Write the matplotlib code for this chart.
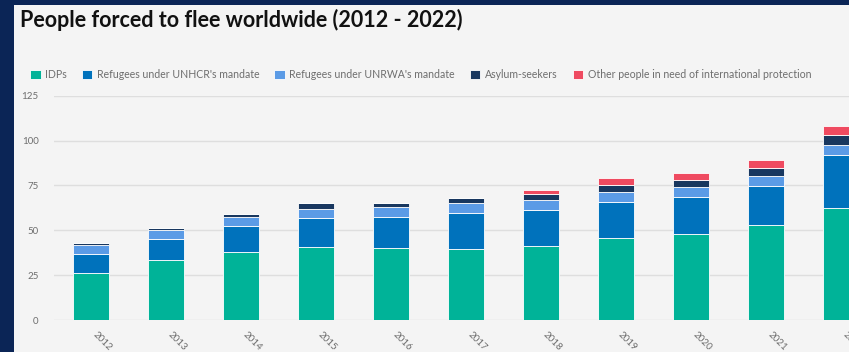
import numpy as np
import matplotlib
matplotlib.use('Agg')
import matplotlib.pyplot as plt
from matplotlib.patches import Rectangle

plt.rcParams['font.family'] = ['Lato', 'DejaVu Sans']

years = ['2012', '2013', '2014', '2015', '2016', '2017', '2018', '2019', '2020', '2021', '2022']
idps = [26.4, 33.3, 38.0, 40.5, 40.3, 39.8, 41.3, 45.7, 48.0, 53.2, 62.5]
unhcr = [10.5, 11.7, 14.2, 16.1, 17.2, 19.9, 20.2, 20.0, 20.5, 21.2, 29.3]
unrwa = [5.0, 5.0, 5.1, 5.2, 5.3, 5.4, 5.5, 5.6, 5.7, 5.8, 5.9]
asylum = [0.9, 1.2, 1.6, 3.2, 2.6, 2.8, 3.3, 3.8, 4.0, 4.6, 5.3]
other = [0, 0, 0, 0, 0, 0, 2.3, 3.8, 3.9, 4.4, 5.2]

series = [
    ('IDPs', idps, '#00b398'),
    ("Refugees under UNHCR's mandate", unhcr, '#0072bc'),
    ("Refugees under UNRWA's mandate", unrwa, '#5b9be6'),
    ('Asylum-seekers', asylum, '#18375f'),
    ('Other people in need of international protection', other, '#ef4a60'),
]

navy = '#0b2556'
panel = '#f4f4f4'
grey = '#6e6e6e'

fig = plt.figure(figsize=(8.49, 3.52), dpi=100)
fig.patch.set_facecolor(navy)
fig.patches.append(Rectangle((14 / 849, 0), 1, 1 - 5 / 352, transform=fig.transFigure,
                             facecolor=panel, edgecolor='none', zorder=-10))

fig.text(20 / 849, 1 - 27 / 352, 'People forced to flee worldwide (2012 - 2022)',
         fontsize=15.5, fontweight='bold', color='#111111', va='baseline', ha='left')

ax = fig.add_axes([54 / 849, 32 / 352, 1 - 54 / 849, 224.3 / 352])
ax.set_facecolor('none')

x = np.arange(len(years))
bottom = np.zeros(len(years))
for label, vals, color in series:
    vals = np.array(vals)
    ax.bar(x, vals, width=0.48, bottom=bottom, color=color, label=label,
           edgecolor='white', linewidth=0.6, zorder=3)
    bottom += vals

ax.set_ylim(0, 125)
ax.set_xlim(-0.49, 10.1)
ax.set_yticks([0, 25, 50, 75, 100, 125])
ax.grid(axis='y', color='#dedede', linewidth=1, zorder=0)
ax.set_axisbelow(True)
for s in ax.spines.values():
    s.set_visible(False)
ax.tick_params(axis='both', length=0, colors=grey, labelsize=7)
ax.tick_params(axis='y', pad=11)
ax.tick_params(axis='x', pad=7)
ax.set_xticks(x)
ax.set_xticklabels(years, rotation=-45, ha='left', va='top')

leg = ax.legend(loc='upper left', bbox_to_anchor=(30 / 849, 1 - 69 / 352),
                bbox_transform=fig.transFigure, ncol=5, frameon=False,
                fontsize=7.6, handlelength=1.0, handleheight=1.0,
                handletextpad=0.42, columnspacing=1.42, borderaxespad=0, borderpad=0)
for t in leg.get_texts():
    t.set_color(grey)

fig.savefig('out.png', dpi=100, facecolor=fig.get_facecolor())
